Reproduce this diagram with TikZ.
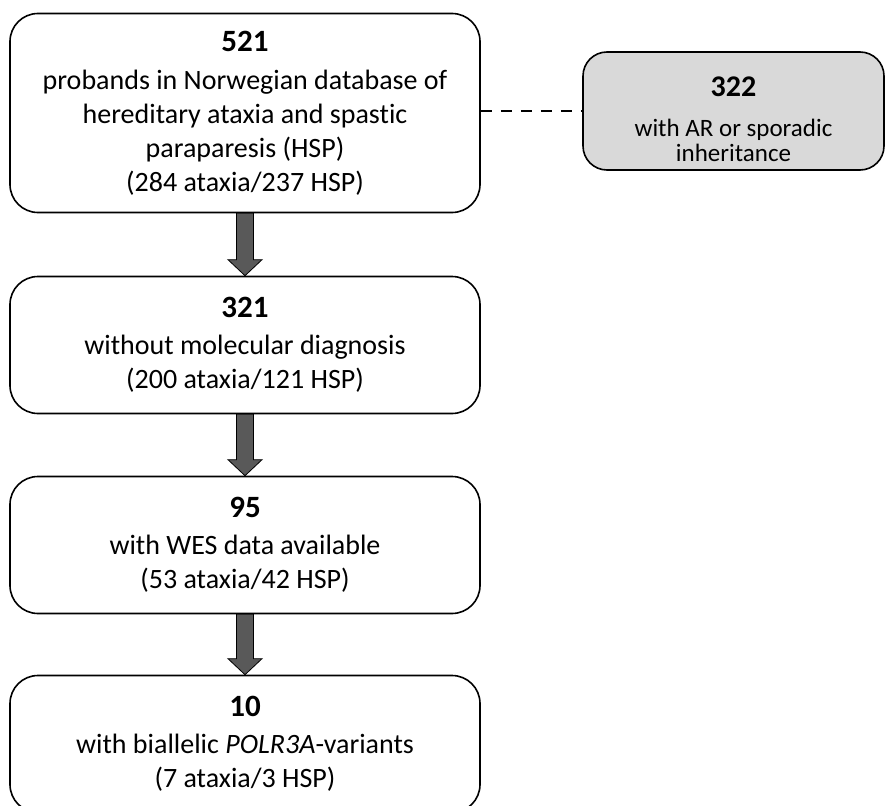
\documentclass[tikz,border=0pt]{standalone}
\usepackage{fontspec}
\setmainfont{Carlito}[Ligatures=NoCommon]
\usetikzlibrary{calc}

\definecolor{arrowgray}{HTML}{595959}
\definecolor{boxgray}{HTML}{D9D9D9}

\newcommand{\bignum}[1]{{\fontsize{31}{34}\selectfont\bfseries #1}}
\newcommand{\smallnum}[1]{{\fontsize{30}{30}\selectfont\bfseries #1}}

\begin{document}
\begin{tikzpicture}[x=1pt,y=-1pt,
  box/.style={draw,line width=1.6pt,rounded corners=28pt,minimum width=470pt,
    minimum height=137pt,align=center,inner sep=0pt,font=\fontsize{28}{34}\selectfont},
  sidebox/.style={draw,line width=1.6pt,fill=boxgray,rounded corners=24pt,minimum width=301pt,
    minimum height=118pt,inner sep=0pt},
  sidetext/.style={align=center,inner sep=0pt,font=\fontsize{25}{25}\selectfont},
  fat/.style={draw=black,line width=0.8pt,fill=arrowgray}]
  \useasboundingbox (0,0) rectangle (885,805);

  \node[box,minimum height=199pt] (probands) at (245,113)
    {\bignum{521}\\[4pt]probands in Norwegian database of\\hereditary ataxia and spastic\\paraparesis (HSP)\\(284 ataxia/237 HSP)};
  \node[box] (nodiag) at (245,345)
    {\bignum{321}\\[3pt]without molecular diagnosis\\(200 ataxia/121 HSP)};
  \node[box] (wes) at (245,545)
    {\bignum{95}\\[3pt]with WES data available\\(53 ataxia/42 HSP)};
  \node[box] (polr) at (245,744)
    {\bignum{10}\\[3pt]with biallelic \textit{POLR3A}-variants\\(7 ataxia/3 HSP)};

  \node[sidebox] (ar) at (733.5,111) {};
  \node[sidetext] (artext) at ($(ar.center)+(0,8)$)
    {\smallnum{322}\\[15pt]with AR or sporadic\\inheritance};

  \draw[line width=1.6pt,dash pattern=on 11pt off 9pt] (probands.east |- ar.west) -- (ar.west);

  % block arrows between the boxes
  \foreach \a/\b in {probands/nodiag,nodiag/wes,wes/polr} {
    \draw[fat] ($(\a.south)+(-8.5,0)$) -- ($(\b.north)+(-8.5,-16)$) -- ($(\b.north)+(-17,-16)$)
      -- (\b.north) -- ($(\b.north)+(17,-16)$) -- ($(\b.north)+(8.5,-16)$)
      -- ($(\a.south)+(8.5,0)$) -- cycle;
  }
\end{tikzpicture}
\end{document}
